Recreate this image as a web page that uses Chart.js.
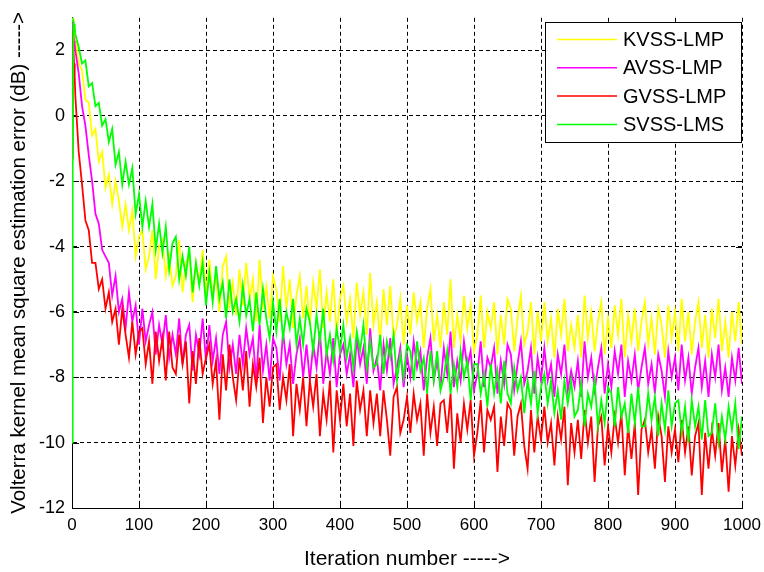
<!DOCTYPE html>
<html>
<head>
<meta charset="utf-8">
<script src="https://cdn.jsdelivr.net/npm/chart.js@4"></script>
<style>
html,body{margin:0;padding:0;background:#fff;}
#c{display:block;}
</style>
</head>
<body>
<canvas id="c" width="764" height="572"></canvas>
<script>
// ---- data ----
const seriesLabels = ['KVSS-LMP', 'AVSS-LMP', 'GVSS-LMP', 'SVSS-LMS'];
const seriesColors = ['#FFFF00', '#FF00FF', '#FF0000', '#00FF00'];
const xTicks = [0,100,200,300,400,500,600,700,800,900,1000];
const yTicks = [-12,-10,-8,-6,-4,-2,0,2];

// iteration grid: 0..4 then every 5 iterations
const iterations = [0,1,2,3,4];
for (let i = 5; i <= 1000; i += 5) iterations.push(i);

const kvss = [
 3.1,2.9,2.7,2.8,2.5,
 2.4,1.6,1.4,0.5,0.4,-0.6,-0.4,-1.4,-1.1,-2.2,
 -1.8,-2.7,-2.0,-2.6,-3.4,-2.7,-3.5,-2.9,-4.3,-3.7,
 -3.5,-4.7,-4.3,-3.5,-5.0,-4.0,-3.8,-4.9,-4.3,-5.2,
 -4.9,-3.8,-5.4,-4.5,-4.2,-5.7,-4.5,-5.1,-4.1,-5.5,
 -4.4,-5.5,-4.9,-6.0,-4.6,-4.3,-5.8,-5.1,-6.1,-4.7,
 -5.8,-4.5,-5.6,-5.0,-6.3,-4.4,-5.8,-5.2,-6.2,-4.9,
 -5.3,-6.3,-4.6,-5.9,-5.0,-6.5,-5.5,-4.9,-6.2,-5.2,
 -6.4,-5.1,-5.9,-4.7,-6.5,-5.4,-6.3,-5.0,-6.7,-5.6,
 -5.2,-6.3,-5.6,-6.8,-5.1,-6.1,-5.4,-6.7,-4.8,-6.4,
 -5.7,-6.9,-5.3,-6.4,-5.2,-6.8,-6.4,-5.6,-7.0,-5.8,
 -6.7,-5.4,-6.3,-5.7,-7.1,-5.9,-5.3,-6.9,-6.1,-7.1,
 -5.7,-6.7,-5.0,-7.1,-6.1,-6.9,-5.5,-6.5,-5.8,-7.2,
 -6.7,-5.5,-7.1,-6.0,-6.5,-5.7,-7.3,-6.1,-7.0,-5.6,
 -5.9,-7.2,-6.2,-5.5,-7.0,-6.6,-5.7,-7.3,-6.0,-6.9,
 -5.7,-6.9,-6.2,-7.4,-5.9,-6.7,-5.6,-7.2,-6.4,-7.1,
 -6.1,-7.4,-5.5,-6.8,-6.0,-7.2,-6.3,-5.7,-7.3,-6.2,
 -7.1,-5.8,-6.7,-5.6,-7.4,-6.1,-6.9,-5.9,-7.2,-6.3,
 -5.7,-7.0,-6.2,-7.3,-5.9,-6.4,-7.4,-5.8,-6.8,-6.0,
 -7.2,-5.6,-6.9,-6.0,-7.3,-6.3,-5.7,-7.1,-6.1,-7.4,
 -5.9,-6.8,-5.6,-7.2,-6.3,-7.4,-6.0,-6.9,-5.7,-7.0
];
const avss = [
 2.9,2.6,2.5,2.3,2.2,
 2.0,1.3,0.3,-0.3,-1.2,-2.0,-3.0,-3.3,-4.1,-4.3,
 -4.5,-5.5,-4.9,-6.0,-5.6,-6.5,-5.4,-6.3,-5.8,-7.0,
 -5.9,-6.9,-6.4,-6.0,-7.3,-6.4,-7.0,-6.1,-7.4,-6.7,
 -7.3,-6.2,-7.6,-6.7,-6.4,-7.8,-6.7,-7.3,-6.2,-7.5,
 -6.4,-7.5,-6.8,-7.9,-6.7,-6.3,-7.7,-7.0,-7.9,-6.7,
 -7.6,-6.5,-7.3,-6.8,-8.1,-6.4,-7.8,-7.0,-8.1,-6.8,
 -7.1,-8.1,-6.6,-7.6,-7.0,-8.2,-7.3,-6.8,-8.0,-7.0,
 -8.1,-7.0,-7.7,-6.6,-8.2,-7.2,-7.9,-6.8,-8.3,-7.3,
 -7.0,-7.9,-7.3,-8.3,-6.8,-7.6,-7.1,-8.2,-6.5,-7.8,
 -7.4,-8.4,-7.0,-7.8,-6.8,-8.2,-7.7,-7.1,-8.3,-7.3,
 -8.0,-6.9,-7.7,-7.2,-8.4,-7.4,-6.8,-8.1,-7.5,-8.3,
 -7.1,-7.9,-6.6,-8.3,-7.5,-8.1,-6.9,-7.7,-7.2,-8.4,
 -7.9,-6.9,-8.3,-7.4,-7.7,-7.1,-8.5,-7.5,-8.2,-7.0,
 -7.3,-8.4,-7.6,-6.9,-8.2,-7.8,-7.1,-8.5,-7.4,-8.1,
 -7.1,-8.1,-7.6,-8.6,-7.3,-7.9,-7.0,-8.4,-7.8,-8.3,
 -7.5,-8.6,-6.9,-8.0,-7.4,-8.4,-7.7,-7.1,-8.5,-7.6,
 -8.3,-7.2,-7.9,-7.0,-8.6,-7.5,-8.1,-7.3,-8.4,-7.7,
 -7.1,-8.2,-7.6,-8.5,-7.3,-7.8,-8.6,-7.2,-8.0,-7.4,
 -8.4,-7.0,-8.1,-7.4,-8.5,-7.7,-7.1,-8.3,-7.5,-8.6,
 -7.3,-8.0,-7.0,-8.4,-7.7,-8.6,-7.4,-8.1,-7.1,-8.2
];
const gvss = [
 -1.3,2.6,2.2,1.6,1.2,
 0.6,-1.1,-2.1,-3.2,-3.5,-4.5,-4.5,-5.3,-5.0,-5.9,
 -5.4,-6.3,-5.9,-7.0,-5.9,-6.7,-7.4,-6.3,-7.3,-6.6,
 -6.5,-7.6,-6.9,-8.2,-6.6,-7.5,-6.8,-8.1,-6.6,-7.7,
 -7.9,-6.7,-7.6,-6.9,-8.8,-7.2,-8.2,-6.8,-7.9,-7.4,
 -7.0,-8.2,-7.5,-9.3,-7.3,-8.4,-7.0,-8.0,-8.7,-7.4,
 -8.4,-7.2,-8.9,-7.6,-8.3,-7.4,-9.4,-8.0,-8.9,-7.7,
 -7.6,-9.0,-8.0,-8.7,-7.6,-9.8,-8.2,-9.0,-8.0,-9.5,
 -8.1,-8.9,-7.9,-9.8,-8.5,-9.3,-8.1,-10.3,-8.4,-9.3,
 -8.2,-9.5,-8.5,-10.1,-8.1,-9.0,-8.4,-9.8,-8.4,-9.4,
 -8.5,-9.8,-8.4,-9.3,-10.4,-8.6,-8.3,-9.7,-9.3,-8.6,
 -9.7,-8.5,-9.3,-8.8,-10.4,-8.5,-9.7,-8.9,-10.1,-8.8,
 -8.7,-9.7,-8.5,-10.8,-9.1,-10.0,-8.8,-9.6,-8.7,-10.4,
 -9.7,-8.7,-10.3,-9.0,-9.3,-8.9,-10.9,-9.2,-10.1,-8.8,
 -9.0,-10.4,-9.2,-8.8,-10.1,-10.8,-9.0,-10.3,-9.2,-9.9,
 -8.9,-10.0,-9.4,-10.7,-9.2,-9.9,-8.9,-11.3,-9.4,-10.3,
 -9.3,-10.5,-9.0,-10.0,-9.2,-11.2,-9.5,-9.2,-10.7,-9.5,
 -10.3,-9.2,-10.0,-9.1,-11.0,-9.5,-10.5,-9.4,-11.6,-9.6,
 -9.3,-10.3,-9.6,-10.8,-9.2,-9.8,-11.2,-9.5,-10.3,-9.6,
 -10.6,-9.3,-10.3,-9.5,-11.0,-9.8,-9.4,-11.6,-9.7,-10.8,
 -9.6,-10.4,-9.4,-10.9,-9.9,-11.5,-9.8,-10.7,-9.6,-10.4
];
const svss = [
 -10.0,-1.6,2.9,2.8,2.7,
 2.5,2.1,1.6,1.7,0.9,1.0,0.3,0.4,-0.3,-0.1,
 -0.8,-0.4,-1.5,-1.1,-2.1,-1.4,-2.1,-1.6,-3.0,-2.4,
 -3.4,-2.6,-3.4,-2.7,-4.1,-3.3,-4.2,-3.4,-4.7,-3.9,
 -3.7,-5.0,-4.3,-4.9,-4.0,-5.4,-4.5,-5.2,-4.5,-5.8,
 -4.8,-5.7,-4.6,-5.6,-5.1,-6.2,-5.0,-6.0,-5.6,-6.3,
 -5.2,-6.1,-5.6,-6.6,-5.4,-6.4,-5.3,-6.2,-6.8,-5.7,
 -6.6,-5.6,-6.8,-6.0,-6.5,-5.6,-7.0,-6.2,-7.0,-5.9,
 -6.3,-7.2,-6.1,-6.9,-5.9,-7.3,-6.7,-7.5,-6.5,-7.2,
 -6.4,-7.4,-6.8,-7.7,-6.6,-7.2,-6.4,-7.7,-6.9,-7.7,
 -7.6,-6.7,-7.9,-6.9,-7.4,-6.7,-8.1,-7.3,-8.0,-7.0,
 -7.2,-8.1,-6.9,-7.8,-7.4,-8.5,-7.2,-8.1,-7.2,-8.4,
 -8.0,-7.2,-8.5,-7.6,-8.3,-7.2,-8.0,-7.5,-8.7,-7.6,
 -7.6,-8.5,-7.9,-8.9,-7.6,-8.5,-7.8,-8.8,-7.5,-8.5,
 -8.8,-7.7,-8.4,-8.0,-9.1,-8.1,-8.8,-7.8,-9.1,-8.3,
 -7.9,-8.8,-8.1,-9.1,-8.4,-9.3,-8.1,-8.8,-8.1,-9.2,
 -9.0,-8.2,-9.5,-8.5,-8.9,-8.1,-9.5,-8.7,-9.4,-8.3,
 -8.5,-9.5,-8.3,-9.2,-8.8,-9.7,-8.5,-9.4,-8.3,-9.5,
 -9.5,-8.5,-9.3,-8.6,-9.8,-8.8,-9.6,-8.4,-9.5,-8.8,
 -8.7,-9.7,-8.9,-10.0,-8.7,-9.5,-8.9,-9.9,-8.7,-9.8,
 -9.7,-8.8,-10.0,-9.2,-9.9,-8.9,-9.6,-8.8,-10.2,-9.2
];
const seriesValues = [kvss, avss, gvss, svss];

// ---- chart ----
const FONT = "'Liberation Sans', Arial, Helvetica, sans-serif";

const datasets = seriesValues.map((vals, k) => ({
  label: seriesLabels[k],
  data: vals.map((v, i) => ({x: iterations[i], y: v})),
  borderColor: seriesColors[k],
  backgroundColor: seriesColors[k],
  borderWidth: 1.8,
  pointRadius: 0,
  tension: 0,
  fill: false,
  order: seriesLabels.length - 1 - k
}));

const tickMarks = {
  id: 'tickMarks',
  beforeDatasetsDraw(chart) {
    const {ctx, chartArea: a, scales: {x, y}} = chart;
    ctx.save();
    ctx.strokeStyle = '#000';
    ctx.lineWidth = 1;
    ctx.beginPath();
    xTicks.forEach(v => {
      const px = Math.round(x.getPixelForValue(v)) + 0.5;
      ctx.moveTo(px, a.bottom); ctx.lineTo(px, a.bottom - 7);
    });
    yTicks.forEach(v => {
      const py = Math.round(y.getPixelForValue(v)) + 0.5;
      ctx.moveTo(a.left, py); ctx.lineTo(a.left + 7, py);
      ctx.moveTo(a.right, py); ctx.lineTo(a.right - 6, py);
    });
    ctx.stroke();
    ctx.restore();
  }
};

const boxLegend = {
  id: 'boxLegend',
  afterDraw(chart) {
    const {ctx} = chart;
    const bx = 545.5, by = 22.5, bw = 196, bh = 120;
    ctx.save();
    ctx.fillStyle = '#fff';
    ctx.fillRect(bx, by, bw, bh);
    ctx.strokeStyle = '#000';
    ctx.lineWidth = 1;
    ctx.strokeRect(bx, by, bw, bh);
    ctx.font = '20px ' + FONT;
    ctx.textBaseline = 'middle';
    ctx.textAlign = 'left';
    chart.data.datasets.forEach((ds, k) => {
      const ry = 39.5 + k * 28.3;
      ctx.strokeStyle = ds.borderColor;
      ctx.lineWidth = 1.5;
      ctx.beginPath();
      ctx.moveTo(557, ry); ctx.lineTo(617, ry);
      ctx.stroke();
      ctx.fillStyle = '#000';
      ctx.fillText(ds.label, 623, ry + 1);
    });
    ctx.restore();
  }
};

new Chart(document.getElementById('c'), {
  type: 'line',
  data: {datasets},
  plugins: [tickMarks, boxLegend],
  options: {
    responsive: false,
    animation: false,
    devicePixelRatio: 1,
    layout: {padding: {top: 15, right: 22, left: 0, bottom: 0}},
    plugins: {legend: {display: false}, tooltip: {enabled: false}},
    scales: {
      x: {
        type: 'linear',
        min: 0, max: 1000,
        afterBuildTicks: s => { s.ticks = xTicks.map(v => ({value: v})); },
        afterFit: s => { s.height = 64; s.paddingRight = 0; s.paddingLeft = 0; },
        ticks: {color: '#000', font: {family: FONT, size: 17}, padding: 7, maxRotation: 0,
                callback: v => String(v)},
        grid: {color: '#000', lineWidth: 1, drawTicks: false},
        border: {display: true, color: '#000', width: 1, dash: [4, 3]},
        title: {display: true, text: 'Iteration number ----->', color: '#000',
                font: {family: FONT, size: 21}, padding: {top: 0, bottom: 0}}
      },
      y: {
        type: 'linear',
        min: -12, max: 3,
        afterBuildTicks: s => { s.ticks = yTicks.map(v => ({value: v})); },
        afterFit: s => { s.width = 72; },
        ticks: {color: '#000', font: {family: FONT, size: 18}, padding: 7,
                callback: v => String(v)},
        grid: {color: '#000', lineWidth: 1, drawTicks: false},
        border: {display: true, color: '#000', width: 1, dash: [4, 3]},
        title: {display: true, text: 'Volterra kernel mean square estimation error (dB) ----->', color: '#000',
                font: {family: FONT, size: 20.5}, padding: {top: 7, bottom: 0}}
      }
    }
  }
});
</script>
</body>
</html>
